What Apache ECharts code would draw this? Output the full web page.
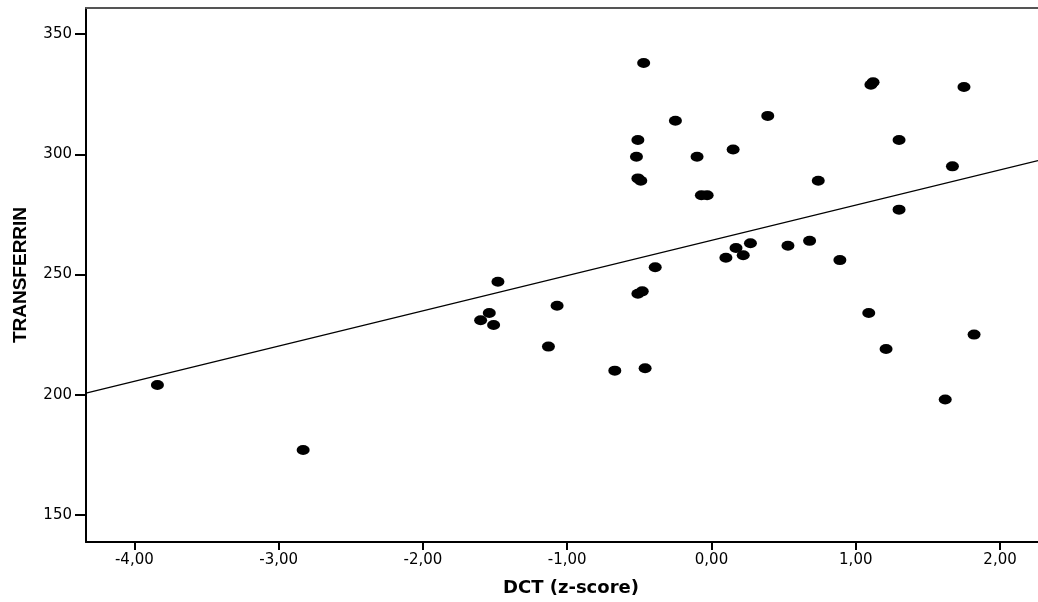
<!DOCTYPE html>
<html>
<head>
<meta charset="utf-8">
<script src="https://cdn.jsdelivr.net/npm/echarts@6/dist/echarts.min.js"></script>
<style>
html,body{margin:0;padding:0;background:#fff;}
#chart{width:1038px;height:602px;}
</style>
</head>
<body>
<div id="chart"></div>
<script>
// DCT z-score (x) values
const dctValues = [-3.84, -2.83, -1.60, -1.54, -1.51, -1.48, -1.13, -1.07, -0.67, -0.46,
  -0.51, -0.48, -0.39, -0.47, -0.25, -0.51, -0.52, -0.10, 0.15, 0.39,
  -0.51, -0.49, -0.07, -0.03, 0.10, 0.17, 0.22, 0.27, 1.105, 1.12,
  1.30, 0.74, 1.30, 0.53, 0.68, 0.89, 1.09, 1.21, 1.75, 1.67, 1.62, 1.82];
// TRANSFERRIN (y) values
const transferrinValues = [204, 177, 231, 234, 229, 247, 220, 237, 210, 211,
  242, 243, 253, 338, 314, 306, 299, 299, 302, 316,
  290, 289, 283, 283, 257, 261, 258, 263, 329, 330,
  306, 289, 277, 262, 264, 256, 234, 219, 328, 295, 198, 225];
// Fit line parameters
const fitIntercept = 264.2;
const fitSlope = 14.67;
// Tick labels
const xTicks = [-4, -3, -2, -1, 0, 1, 2];
const yTicks = [150, 200, 250, 300, 350];
const xMin = -4.335, xMax = 2.263;
const yMin = 138.7, yMax = 360.9;

const points = dctValues.map((x, i) => [x, transferrinValues[i]]);
const fitLine = [[xMin, fitIntercept + fitSlope * xMin], [xMax, fitIntercept + fitSlope * xMax]];

const chart = echarts.init(document.getElementById('chart'), null, {renderer: 'canvas'});
const labelFont = 'DejaVu Sans';
chart.setOption({
  animation: false,
  backgroundColor: '#ffffff',
  grid: {left: 86, right: 0, top: 8, bottom: 58, containLabel: false},
  xAxis: [{
    type: 'value', min: xMin, max: xMax, position: 'bottom',
    name: 'DCT (z-score)', nameLocation: 'middle', nameGap: 37,
    nameTextStyle: {fontFamily: labelFont, fontWeight: 'bold', fontSize: 18, color: '#000', padding: [0, 0, 0, 18]},
    axisLine: {show: true, onZero: false, lineStyle: {color: '#000', width: 2}},
    axisTick: {show: true, length: 8, lineStyle: {color: '#000', width: 2}, customValues: xTicks},
    axisLabel: {show: true, margin: 11, color: '#000', fontFamily: labelFont, fontSize: 15,
      customValues: xTicks, formatter: v => v.toFixed(2).replace('.', ',')},
    splitLine: {show: false}
  }, {
    type: 'value', min: xMin, max: xMax, position: 'top',
    axisLine: {show: true, onZero: false, lineStyle: {color: '#555', width: 2}},
    axisTick: {show: false}, axisLabel: {show: false}, splitLine: {show: false}
  }],
  yAxis: {
    type: 'value', min: yMin, max: yMax,
    name: 'TRANSFERRIN', nameLocation: 'middle', nameGap: 56, nameRotate: 90,
    nameTextStyle: {fontFamily: "'Liberation Sans', Arial, sans-serif", fontWeight: 'bold', fontSize: 19, color: '#000'},
    axisLine: {show: true, onZero: false, lineStyle: {color: '#000', width: 2}},
    axisTick: {show: true, length: 11, lineStyle: {color: '#000', width: 2}, customValues: yTicks},
    axisLabel: {show: true, margin: 14, color: '#000', fontFamily: labelFont, fontSize: 15,
      customValues: yTicks, formatter: v => String(v)},
    splitLine: {show: false}
  },
  series: [{
    type: 'line', data: fitLine, showSymbol: false, symbol: 'none',
    lineStyle: {color: '#000', width: 1.3}, silent: true, z: 2
  }, {
    type: 'scatter', data: points, symbol: 'circle', symbolSize: [13, 10],
    itemStyle: {color: '#000', opacity: 1}, z: 3
  }]
});
</script>
</body>
</html>
